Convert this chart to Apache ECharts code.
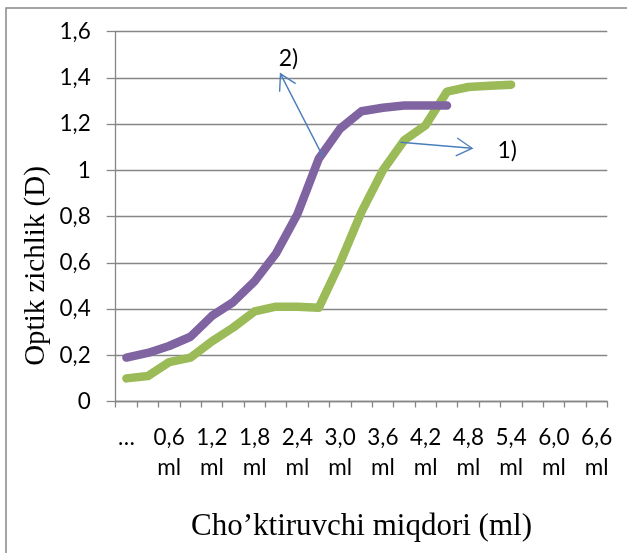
<!DOCTYPE html>
<html>
<head>
<meta charset="utf-8">
<script src="https://cdn.jsdelivr.net/npm/echarts@6/dist/echarts.min.js"></script>
<style>
html,body{margin:0;padding:0;background:#fff;}
#chart{width:627px;height:553px;}
</style>
</head>
<body>
<div id="chart"></div>
<script>
// Categories (ml of precipitant), labels shown every other category
var categories = ['…','0,3\nml','0,6\nml','0,9\nml','1,2\nml','1,5\nml','1,8\nml','2,1\nml','2,4\nml','2,7\nml','3,0\nml','3,3\nml','3,6\nml','3,9\nml','4,2\nml','4,5\nml','4,8\nml','5,1\nml','5,4\nml','5,7\nml','6,0\nml','6,3\nml','6,6\nml'];
// Series 1) green
var series1 = [0.10, 0.11, 0.17, 0.19, 0.26, 0.32, 0.39, 0.41, 0.41, 0.405, 0.60, 0.82, 1.00, 1.13, 1.195, 1.34, 1.36, 1.365, 1.37];
// Series 2) purple
var series2 = [0.19, 0.21, 0.24, 0.28, 0.37, 0.43, 0.52, 0.64, 0.81, 1.05, 1.18, 1.255, 1.27, 1.28, 1.28, 1.28];
// Y axis
var yMin = 0, yMax = 1.6, yStep = 0.2;
// Annotations in data space: [categoryIndex, value]
var ann2Tail = [9.21, 1.057], ann2Head = [7.21, 1.417], ann2Label = [7.58, 1.483];
var ann1Tail = [12.82, 1.121], ann1Head = [16.17, 1.095], ann1Label = [17.82, 1.086];

var gridColor = '#868686';
var labelFont = 'Lato, "Open Sans", sans-serif';
var serifFont = '"Liberation Serif", "DejaVu Serif", serif';

var chart = echarts.init(document.getElementById('chart'), null, {renderer: 'canvas'});
chart.setOption({
  animation: false,
  backgroundColor: '#fff',
  grid: {left: 115.7, right: 19.7, top: 31.5, bottom: 151.5, containLabel: false},
  xAxis: {
    type: 'category',
    data: categories,
    boundaryGap: true,
    name: 'Cho’ktiruvchi miqdori (ml)',
    nameLocation: 'middle',
    nameGap: 110,
    nameTextStyle: {fontFamily: serifFont, fontSize: 31, color: '#000'},
    axisLine: {show: true, lineStyle: {color: gridColor, width: 1.3}},
    axisTick: {show: true, interval: 0, alignWithLabel: false, length: 6, lineStyle: {color: gridColor, width: 1.3}},
    axisLabel: {interval: 1, fontFamily: labelFont, fontSize: 22.5, color: '#000', lineHeight: 30, margin: 21},
    splitLine: {show: false}
  },
  yAxis: {
    type: 'value',
    min: yMin, max: yMax, interval: yStep,
    axisLine: {show: true, lineStyle: {color: gridColor, width: 1.3}},
    axisTick: {show: true, length: 9, lineStyle: {color: gridColor, width: 1.3}},
    axisLabel: {
      fontFamily: labelFont, fontSize: 22.5, color: '#000', margin: 25,
      formatter: function (v) { return String(Math.round(v * 10) / 10).replace('.', ','); }
    },
    splitLine: {show: true, lineStyle: {color: gridColor, width: 1.3}}
  },
  series: [
    {
      name: '1)', type: 'line', data: series1, symbol: 'none', smooth: false,
      lineStyle: {color: '#9BBB59', width: 8.5, cap: 'round', join: 'round'},
      itemStyle: {color: '#9BBB59'}
    },
    {
      name: '2)', type: 'line', data: series2, symbol: 'none', smooth: false,
      lineStyle: {color: '#8064A2', width: 8.5, cap: 'round', join: 'round'},
      itemStyle: {color: '#8064A2'}
    }
  ]
});

function px(p) {
  var a = chart.convertToPixel({gridIndex: 0}, [0, 0]);
  var b = chart.convertToPixel({gridIndex: 0}, [1, 1]);
  return [a[0] + (b[0] - a[0]) * p[0], a[1] + (b[1] - a[1]) * p[1]];
}
function arrow(tail, head) {
  var t = px(tail), h = px(head);
  var ang = Math.atan2(t[1] - h[1], t[0] - h[0]);
  var L = 18, da = 30 * Math.PI / 180;
  var w1 = [h[0] + L * Math.cos(ang + da), h[1] + L * Math.sin(ang + da)];
  var w2 = [h[0] + L * Math.cos(ang - da), h[1] + L * Math.sin(ang - da)];
  var st = {stroke: '#4A7EBB', lineWidth: 1.4, fill: null};
  return [
    {type: 'line', shape: {x1: t[0], y1: t[1], x2: h[0], y2: h[1]}, style: st, z: 100},
    {type: 'polyline', shape: {points: [w1, h, w2]}, style: st, z: 100}
  ];
}
function label(p, txt) {
  var q = px(p);
  return {type: 'text', x: q[0], y: q[1], z: 100,
    style: {text: txt, fontFamily: labelFont, fontSize: 23, fill: '#000', align: 'center', verticalAlign: 'middle'}};
}
var g = [
  {type: 'rect', shape: {x: 6, y: 8, width: 660, height: 600}, style: {fill: null, stroke: gridColor, lineWidth: 1.5}, z: 0},
  {type: 'text', x: 36, y: 266, rotation: Math.PI / 2, z: 100,
   style: {text: 'Optik zichlik (D)', fontFamily: serifFont, fontSize: 29, fill: '#000', align: 'center', verticalAlign: 'middle'}}
];
g = g.concat(arrow(ann2Tail, ann2Head), arrow(ann1Tail, ann1Head));
g.push(label(ann2Label, '2)'), label(ann1Label, '1)'));
chart.setOption({graphic: g});
</script>
</body>
</html>
